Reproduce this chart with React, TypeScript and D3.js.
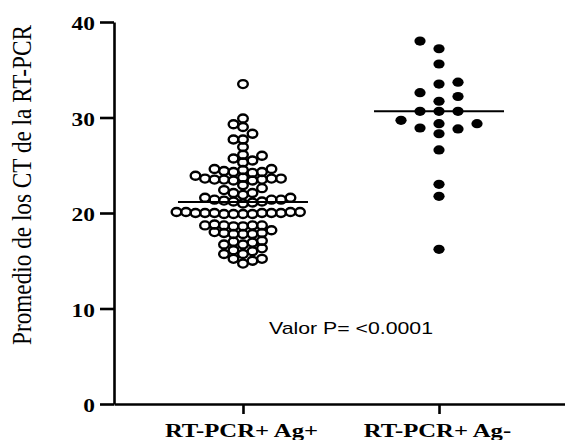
import React, { useEffect, useRef } from 'react';
import * as d3 from 'd3';

const groups = ['RT-PCR+ Ag+', 'RT-PCR+ Ag-'];

// CT values, RT-PCR+ Ag+ (open circles)
const agPositive = [
  14.7, 15.2, 15.0, 15.2,
  15.7, 16.1, 15.7, 16.0,
  16.7, 17.0, 16.3, 16.7, 16.9, 17.1,
  17.8, 17.9, 17.8, 17.9, 17.8, 18.0, 18.2,
  18.6, 18.7, 18.7, 18.8, 18.7, 18.6, 18.7,
  20.0, 19.9, 20.1, 20.0, 19.9, 20.0, 20.1, 19.9, 20.0, 20.1, 19.9, 20.0, 20.1, 20.0,
  21.4, 21.3, 21.6, 21.2, 21.1, 21.9, 21.4, 21.2, 22.1, 21.0, 21.6, 21.4,
  22.1, 22.4, 22.6, 22.9,
  23.9, 23.5, 23.6, 23.6, 23.5, 23.5, 23.6, 23.4, 23.4, 23.7,
  24.6, 24.4, 24.2, 24.5, 24.6, 24.3, 24.3,
  26.1, 26.0, 25.7, 25.5, 25.3,
  27.7, 27.7, 26.9,
  29.9, 29.3, 29.0, 28.3,
  33.5,
];

// CT values, RT-PCR+ Ag- (filled dots)
const agNegative = [
  16.2, 21.75, 23.0, 26.6, 28.3, 28.8, 28.9, 29.35, 29.35, 29.7,
  30.65, 30.65, 30.65, 31.7, 32.2, 32.6, 33.5, 33.7, 35.6, 37.2, 38.0,
];

const yTicks = [0, 10, 20, 30, 40];
const yTitle = 'Promedio de los CT de la RT-PCR';
const pLabel = 'Valor P= <0.0001';

// simple beeswarm: lowest values first, slots alternate left/right
const swarm = (values: number[], cx: number, step: number, minDy: number, y: any) => {
  const placed: { px: number; py: number }[] = [];
  const sorted = [...values].sort((a, b) => a - b);
  let flip = 1;
  sorted.forEach(v => {
    const py = y(v);
    const near = placed.filter(p => Math.abs(p.py - py) < minDy);
    let k = 0;
    for (let r = 0; r < 50; r++) {
      const cands = r === 0 ? [0] : [r * flip, -r * flip];
      const free = cands.find(c => !near.some(p => Math.abs(p.px - (cx + c * step)) < step * 0.9));
      if (free !== undefined) {
        k = free;
        if (r > 0) flip = -flip;
        break;
      }
    }
    placed.push({ px: cx + k * step, py });
  });
  return placed;
};

const App = () => {
  const ref = useRef<SVGSVGElement>(null);

  useEffect(() => {
    const svg = d3.select(ref.current);
    svg.selectAll('*').remove();

    const x = d3.scalePoint<string>().domain(groups).range([114, 568]).padding(0.658);
    const y = d3.scaleLinear().domain([0, 40]).range([404, 22]);

    const serif = '"Liberation Serif", "Times New Roman", serif';

    // Y axis
    const yAxis = svg.append('g')
      .attr('transform', 'translate(114,0)')
      .call(d3.axisLeft(y).tickValues(yTicks).tickSize(14).tickSizeOuter(0).tickFormat(d3.format('d')));
    yAxis.selectAll('path, line').attr('stroke', '#000').attr('stroke-width', 2.6);
    yAxis.selectAll('text')
      .attr('x', 0)
      .attr('dy', '0.42em')
      .attr('transform', 'translate(-19,0) scale(1.3,1)')
      .attr('fill', '#000')
      .style('font-family', serif)
      .style('font-weight', 'bold')
      .style('font-size', '18px');

    // X axis
    const xAxis = svg.append('g')
      .attr('transform', 'translate(0,404)')
      .call(d3.axisBottom(x).tickSize(10).tickSizeOuter(0));
    xAxis.selectAll('path, line').attr('stroke', '#000').attr('stroke-width', 2.6);
    xAxis.selectAll('text')
      .attr('y', 0)
      .attr('dy', 0)
      .attr('transform', 'translate(-2,33) scale(1.3,1)')
      .attr('fill', '#000')
      .style('font-family', serif)
      .style('font-weight', 'bold')
      .style('font-size', '19px');

    // Y axis title
    svg.append('text')
      .attr('transform', 'translate(31,185) rotate(-90) scale(1,1.2)')
      .attr('text-anchor', 'middle')
      .attr('textLength', 320)
      .attr('lengthAdjust', 'spacingAndGlyphs')
      .style('font-family', serif)
      .style('font-size', '22px')
      .text(yTitle);

    // Ag+ points, open circles
    svg.append('g')
      .selectAll('ellipse')
      .data(swarm(agPositive, x(groups[0])!, 9.5, 7, y))
      .join('ellipse')
      .attr('cx', d => d.px)
      .attr('cy', d => d.py)
      .attr('rx', 4.8)
      .attr('ry', 4.0)
      .attr('fill', 'none')
      .attr('stroke', '#000')
      .attr('stroke-width', 2.4);

    // Ag- points, filled
    svg.append('g')
      .selectAll('ellipse')
      .data(swarm(agNegative, x(groups[1])!, 19, 9, y))
      .join('ellipse')
      .attr('cx', d => d.px)
      .attr('cy', d => d.py)
      .attr('rx', 5.6)
      .attr('ry', 4.6)
      .attr('fill', '#000');

    // median lines
    const medians = [d3.median(agPositive)!, d3.median(agNegative)!];
    svg.append('g')
      .selectAll('line')
      .data(groups)
      .join('line')
      .attr('x1', d => x(d)! - 65)
      .attr('x2', d => x(d)! + 65)
      .attr('y1', (d, i) => y(medians[i]))
      .attr('y2', (d, i) => y(medians[i]))
      .attr('stroke', '#000')
      .attr('stroke-width', 2);

    // p value
    svg.append('text')
      .attr('transform', 'translate(351,334) scale(1.33,1)')
      .attr('text-anchor', 'middle')
      .style('font-family', '"Liberation Sans", Arial, sans-serif')
      .style('font-size', '16px')
      .text(pLabel);
  }, []);

  return (
    <svg
      ref={ref}
      width={565}
      height={440}
      style={{ position: 'absolute', left: 0, top: 0, background: '#fff' }}
    />
  );
};

export default App;
